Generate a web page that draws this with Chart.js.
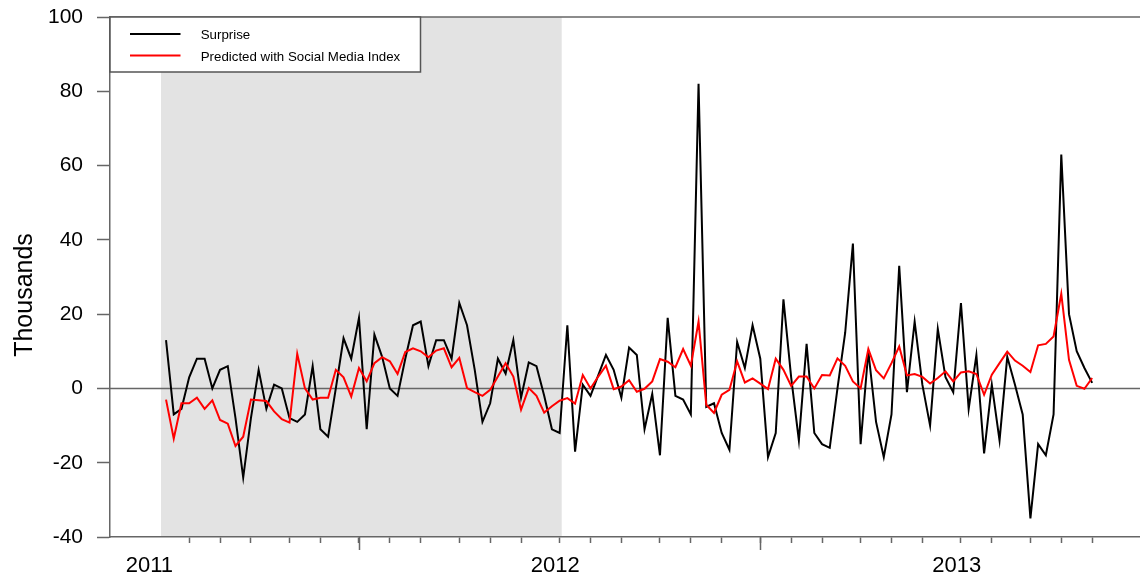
<!DOCTYPE html>
<html>
<head>
<meta charset="utf-8">
<script src="https://cdn.jsdelivr.net/npm/chart.js@4.4.1/dist/chart.umd.min.js"></script>
<style>
  html, body { margin: 0; padding: 0; background: #ffffff; }
  #wrap { width: 1140px; height: 578px; }
</style>
</head>
<body>
<div id="wrap"><canvas id="chart" width="1140" height="578"></canvas></div>
<script>
// Weekly jobs surprise (thousands) and the prediction from the social media index.
const surprise = [
  13, -7, -5.5, 3, 8, 8, 0, 5, 6, -8,
  -24, -8, 5, -5.5, 1, 0, -8, -9, -7, 6,
  -11, -13, 0, 13.5, 8, 19, -11, 14.5, 8.5, 0,
  -2, 8, 17, 18, 6, 13, 13, 8, 23, 17,
  5, -9, -4, 8, 4, 13, -2.5, 7, 6, -2,
  -11, -12, 17, -17, 1, -2, 3.5, 9, 5, -2.5,
  11, 9, -11, -1.5, -18, 19, -2, -3, -7, 82,
  -5, -4, -12, -16.5, 12.5, 5.5, 17, 8, -18.5, -12,
  24, 3, -14, 12, -12, -15, -16, 0, 15, 39,
  -15, 10, -9, -18.5, -7, 33, -1, 18, 1, -10,
  16, 3, -1, 23, -5.5, 9, -17.5, 1, -14, 8.5,
  1, -7, -35, -15, -18, -7, 63, 20, 10, 5.5,
  1.5
];
const predicted = [
  -3, -13.5, -4, -4, -2.5, -5.5, -3.2, -8.5, -9.5, -15.5,
  -13, -3, -3.2, -3.4, -6.2, -8.3, -9.2, 9.3, 0, -3,
  -2.5, -2.5, 5, 3, -2.2, 5.5, 1.9, 6.8, 8.4, 7.3,
  3.9, 9.8, 10.8, 10, 8.4, 10.2, 10.8, 5.7, 8.2, 0.1,
  -1, -2, -0.4, 3.2, 6.8, 3.2, -5.7, 0.1, -2, -6.5,
  -4.8, -3.3, -2.6, -4.1, 3.6, 0, 3.2, 6.1, -0.2, 0.5,
  2.2, -0.9, -0.1, 1.9, 7.9, 7.2, 5.7, 10.6, 6.1, 18,
  -4.4, -6.6, -1.7, -0.4, 7.3, 1.6, 2.7, 1.3, -0.2, 8,
  5, 0.7, 3.2, 3.2, 0, 3.6, 3.5, 8.1, 6.1, 1.9,
  0, 10.6, 4.9, 2.7, 6.8, 11.3, 3.5, 3.9, 3.1, 1.3,
  2.8, 4.6, 1.9, 4.3, 4.6, 3.9, -1.7, 3.7, 6.8, 9.9,
  7.5, 6.1, 4.4, 11.6, 12, 14, 25.5, 7.7, 0.7, -0.1,
  2.8
];

// Axis marks, in weeks from the first observation.
const monthTicks = [3, 7, 11, 16, 20, 25, 29, 33, 38, 42, 46, 51, 55, 59, 64, 68, 72,
                    77, 81, 85, 90, 94, 98, 103, 107, 112, 116, 120];
const halfYearTicks = [25, 77];
const yearLabels = ['2011', '2012', '2013'];
const yearLabelAt = [-2.16, 50.44, 102.45];
const yTicks = [-40, -20, 0, 20, 40, 60, 80, 100];

// Estimation window (shaded).
const sampleStart = -0.65;
const sampleEnd = 51.27;

const seriesNames = ['Surprise', 'Predicted with Social Media Index'];
const axisTitle = 'Thousands';

const FONT = "'Liberation Sans', Arial, Helvetica, sans-serif";
const AXIS_GREY = '#666666';

const toPoints = arr => arr.map((v, i) => ({ x: i, y: v }));

const backdrop = {
  id: 'backdrop',
  beforeDraw(chart) {
    const { ctx, chartArea: a, scales: { x } } = chart;
    const x0 = x.getPixelForValue(sampleStart);
    const x1 = x.getPixelForValue(sampleEnd);
    ctx.save();
    ctx.fillStyle = '#e3e3e3';
    ctx.fillRect(x0, a.top, x1 - x0, a.bottom - a.top);
    ctx.restore();
  },
  beforeDatasetsDraw(chart) {
    const { ctx, chartArea: a, scales: { y } } = chart;
    const y0 = y.getPixelForValue(0);
    ctx.save();
    ctx.strokeStyle = AXIS_GREY;
    ctx.lineWidth = 1.5;
    ctx.beginPath();
    ctx.moveTo(a.left, y0);
    ctx.lineTo(a.right, y0);
    ctx.stroke();
    // top frame line
    ctx.beginPath();
    ctx.moveTo(a.left, a.top);
    ctx.lineTo(a.right, a.top);
    ctx.stroke();
    ctx.restore();
  },
  afterDraw(chart) {
    const { ctx, chartArea: a, scales: { x } } = chart;
    ctx.save();
    // longer half-year ticks
    ctx.strokeStyle = AXIS_GREY;
    ctx.lineWidth = 1.5;
    halfYearTicks.forEach(t => {
      const px = Math.round(x.getPixelForValue(t)) + 0.5;
      ctx.beginPath();
      ctx.moveTo(px, a.bottom);
      ctx.lineTo(px, a.bottom + 13);
      ctx.stroke();
    });

    // vertical axis title
    ctx.fillStyle = '#000';
    ctx.font = '25px ' + FONT;
    ctx.textAlign = 'center';
    ctx.textBaseline = 'alphabetic';
    ctx.translate(31.5, 295);
    ctx.rotate(-Math.PI / 2);
    ctx.fillText(axisTitle, 0, 0);
    ctx.setTransform(1, 0, 0, 1, 0, 0);

    // legend box
    const bx = a.left, by = a.top, bw = 310.5, bh = 55;
    ctx.fillStyle = '#ffffff';
    ctx.fillRect(bx, by, bw, bh);
    ctx.strokeStyle = '#555555';
    ctx.lineWidth = 1.5;
    ctx.strokeRect(bx, by, bw, bh);
    const colors = ['#000000', '#ff0000'];
    const rows = [by + 17, by + 38.5];
    ctx.font = '13.3px ' + FONT;
    ctx.textAlign = 'left';
    ctx.textBaseline = 'alphabetic';
    seriesNames.forEach((name, i) => {
      ctx.strokeStyle = colors[i];
      ctx.lineWidth = 2;
      ctx.beginPath();
      ctx.moveTo(130, rows[i]);
      ctx.lineTo(180.5, rows[i]);
      ctx.stroke();
      ctx.fillStyle = '#000';
      ctx.fillText(name, 200.7, rows[i] + 5);
    });
    ctx.restore();
  }
};

new Chart(document.getElementById('chart'), {
  type: 'line',
  data: {
    datasets: [
      {
        label: seriesNames[0],
        data: toPoints(surprise),
        borderColor: '#000000',
        borderWidth: 2,
        pointRadius: 0,
        tension: 0,
        order: 1
      },
      {
        label: seriesNames[1],
        data: toPoints(predicted),
        borderColor: '#ff0000',
        borderWidth: 2,
        pointRadius: 0,
        tension: 0,
        order: 0
      }
    ]
  },
  options: {
    responsive: false,
    animation: false,
    devicePixelRatio: 1,
    layout: { padding: { top: 17, right: 0, left: 0, bottom: 0 } },
    plugins: {
      legend: { display: false },
      tooltip: { enabled: false }
    },
    scales: {
      x: {
        type: 'linear',
        min: -7.26,
        max: 126.2,
        afterFit(scale) {
          scale.height = 41;
          scale.paddingLeft = 0;
          scale.paddingRight = 0;
        },
        afterBuildTicks(scale) {
          const vals = monthTicks.concat(yearLabelAt).sort((p, q) => p - q);
          scale.ticks = vals.map(v => ({ value: v }));
        },
        ticks: {
          autoSkip: false,
          maxRotation: 0,
          padding: 10,
          color: '#000',
          font: { family: FONT, size: 22 },
          callback(value) {
            const k = yearLabelAt.indexOf(value);
            return k >= 0 ? yearLabels[k] : '';
          }
        },
        grid: {
          drawOnChartArea: false,
          drawTicks: true,
          tickLength: 6,
          tickWidth: 1.5,
          tickColor(ctx) {
            return ctx.tick && yearLabelAt.includes(ctx.tick.value) ? 'rgba(0,0,0,0)' : AXIS_GREY;
          }
        },
        border: { display: true, color: AXIS_GREY, width: 1.5 }
      },
      y: {
        type: 'linear',
        min: -40,
        max: 100,
        afterFit(scale) {
          scale.width = 110;
          scale.paddingTop = 0;
          scale.paddingBottom = 0;
        },
        afterBuildTicks(scale) {
          scale.ticks = yTicks.map(v => ({ value: v }));
        },
        ticks: {
          padding: 14,
          color: '#000',
          font: { family: FONT, size: 21 }
        },
        grid: {
          drawOnChartArea: false,
          drawTicks: true,
          tickLength: 13,
          tickWidth: 1.5,
          tickColor: AXIS_GREY
        },
        border: { display: true, color: AXIS_GREY, width: 1.5 }
      }
    }
  },
  plugins: [backdrop]
});
</script>
</body>
</html>
